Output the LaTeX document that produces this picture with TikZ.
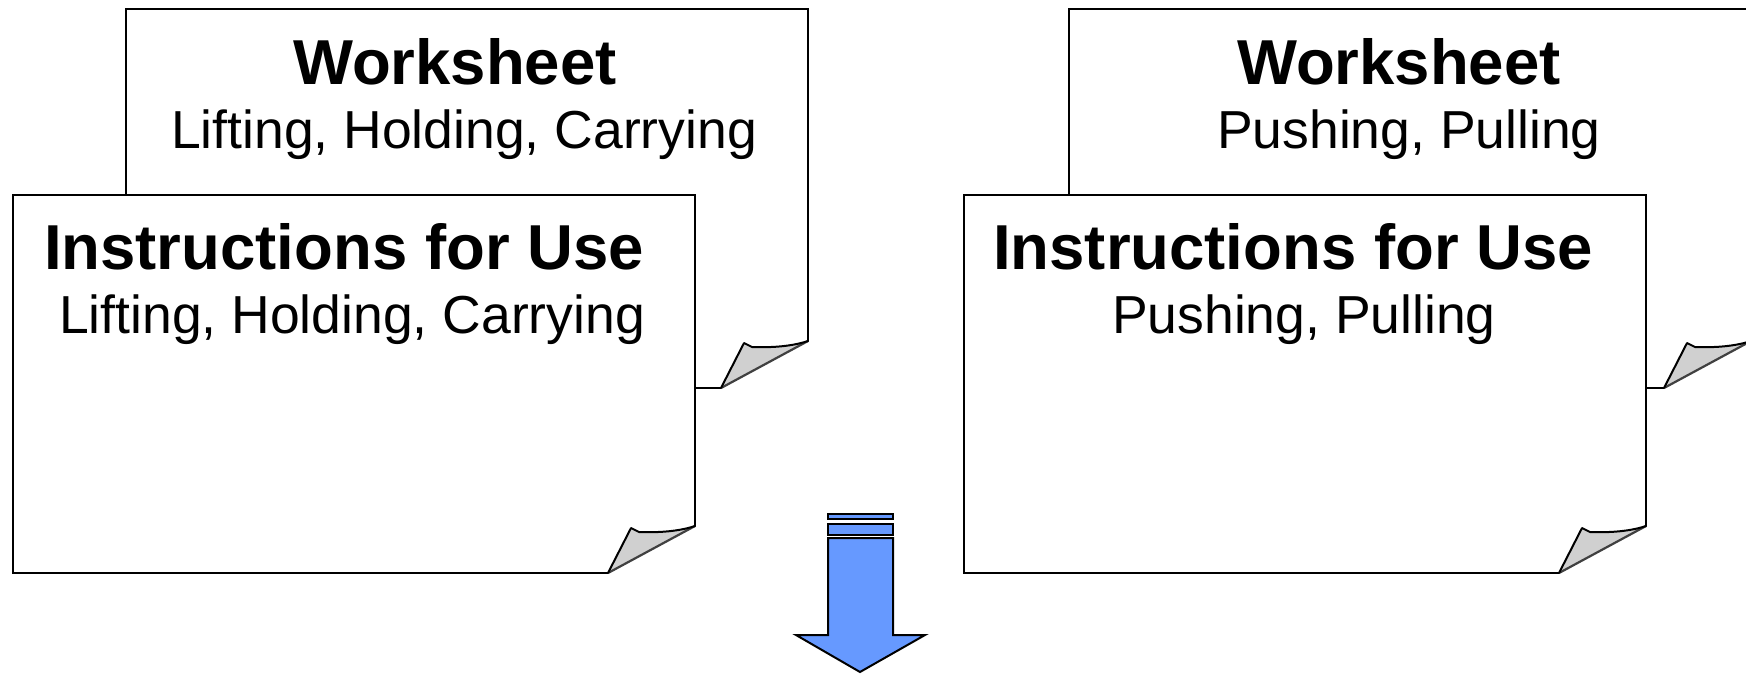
\documentclass[tikz,border=0pt]{standalone}
\usepackage{fontspec}
\setmainfont{Liberation Sans}
\definecolor{curlgray}{HTML}{D0D0D0}
\definecolor{arrowblue}{HTML}{6699FF}
\tikzset{
  pageedge/.style={line width=2.7pt, line cap=rect},
  curledge/.style={line width=2pt, line join=round},
  curlshadow/.style={line width=2.2pt, draw=black!75},
  titletext/.style={anchor=base, inner sep=0pt, font=\fontsize{63.5}{70}\selectfont\bfseries},
  subtext/.style={anchor=base, inner sep=0pt, font=\fontsize{53.5}{60}\selectfont},
  arrowpart/.style={fill=arrowblue, draw=black, line width=2pt, line join=miter},
}
% #1 name, #2 left, #3 top, #4 right, #5 bottom
\newcommand\docpage[5]{%
  \coordinate (#1-nw) at (#2,#3);
  \coordinate (#1-ne) at (#4,#3);
  \coordinate (#1-sw) at (#2,#5);
  \coordinate (#1-re) at (#4,{#5-47});
  \coordinate (#1-bs) at ({#4-87},#5);
  \coordinate (#1-tip) at ({#4-64},{#5-45});
  \coordinate (#1-tp) at ({#4-56},{#5-41});
  \fill[white] (#1-nw) -- (#1-ne) -- (#1-re) -- (#1-bs) -- (#1-sw) -- cycle;
  \draw[pageedge] (#1-bs) -- (#1-sw) -- (#1-nw) -- (#1-ne) -- (#1-re);
  \fill[curlgray] (#1-bs) -- (#1-tip) -- (#1-tp) .. controls ({#4-30},{#5-40}) and ({#4-12},{#5-43}) .. (#1-re) -- cycle;
  \draw[curlshadow] (#1-re) -- (#1-bs);
  \draw[curledge] (#1-bs) -- (#1-tip) -- (#1-tp) .. controls ({#4-30},{#5-40}) and ({#4-12},{#5-43}) .. (#1-re);
}
\begin{document}
\begin{tikzpicture}[x=1pt,y=-1pt]
\useasboundingbox (0,0) rectangle (1746,673);
\clip (0,0) rectangle (1746,673);
\fill[white] (0,0) rectangle (1746,673);

% left group
\docpage{lws}{126}{9}{808}{388}
\node[titletext] (lwsT) at (455,84) {Worksheet};
\node[subtext] (lwsS) at (464,148) {Lifting, Holding, Carrying};
\docpage{lin}{13}{195}{695}{573}
\node[titletext] (linT) at (344,269) {Instructions for Use};
\node[subtext] (linS) at (352,333) {Lifting, Holding, Carrying};

% right group
\docpage{rws}{1069}{9}{1751}{388}
\node[titletext] (rwsT) at (1399,84) {Worksheet};
\node[subtext] (rwsS) at (1409,148) {Pushing, Pulling};
\docpage{rin}{964}{195}{1646}{573}
\node[titletext] (rinT) at (1293,269) {Instructions for Use};
\node[subtext] (rinS) at (1304,333) {Pushing, Pulling};

% arrow
\coordinate (arrtip) at (860,672);
\draw[arrowpart] (828,514) rectangle (893,519);
\draw[arrowpart] (828,524) rectangle (893,535);
\draw[arrowpart] (828,538) -- (893,538) -- (893,635) -- (925,635) -- (arrtip) -- (796,635) -- (828,635) -- cycle;
\end{tikzpicture}
\end{document}
